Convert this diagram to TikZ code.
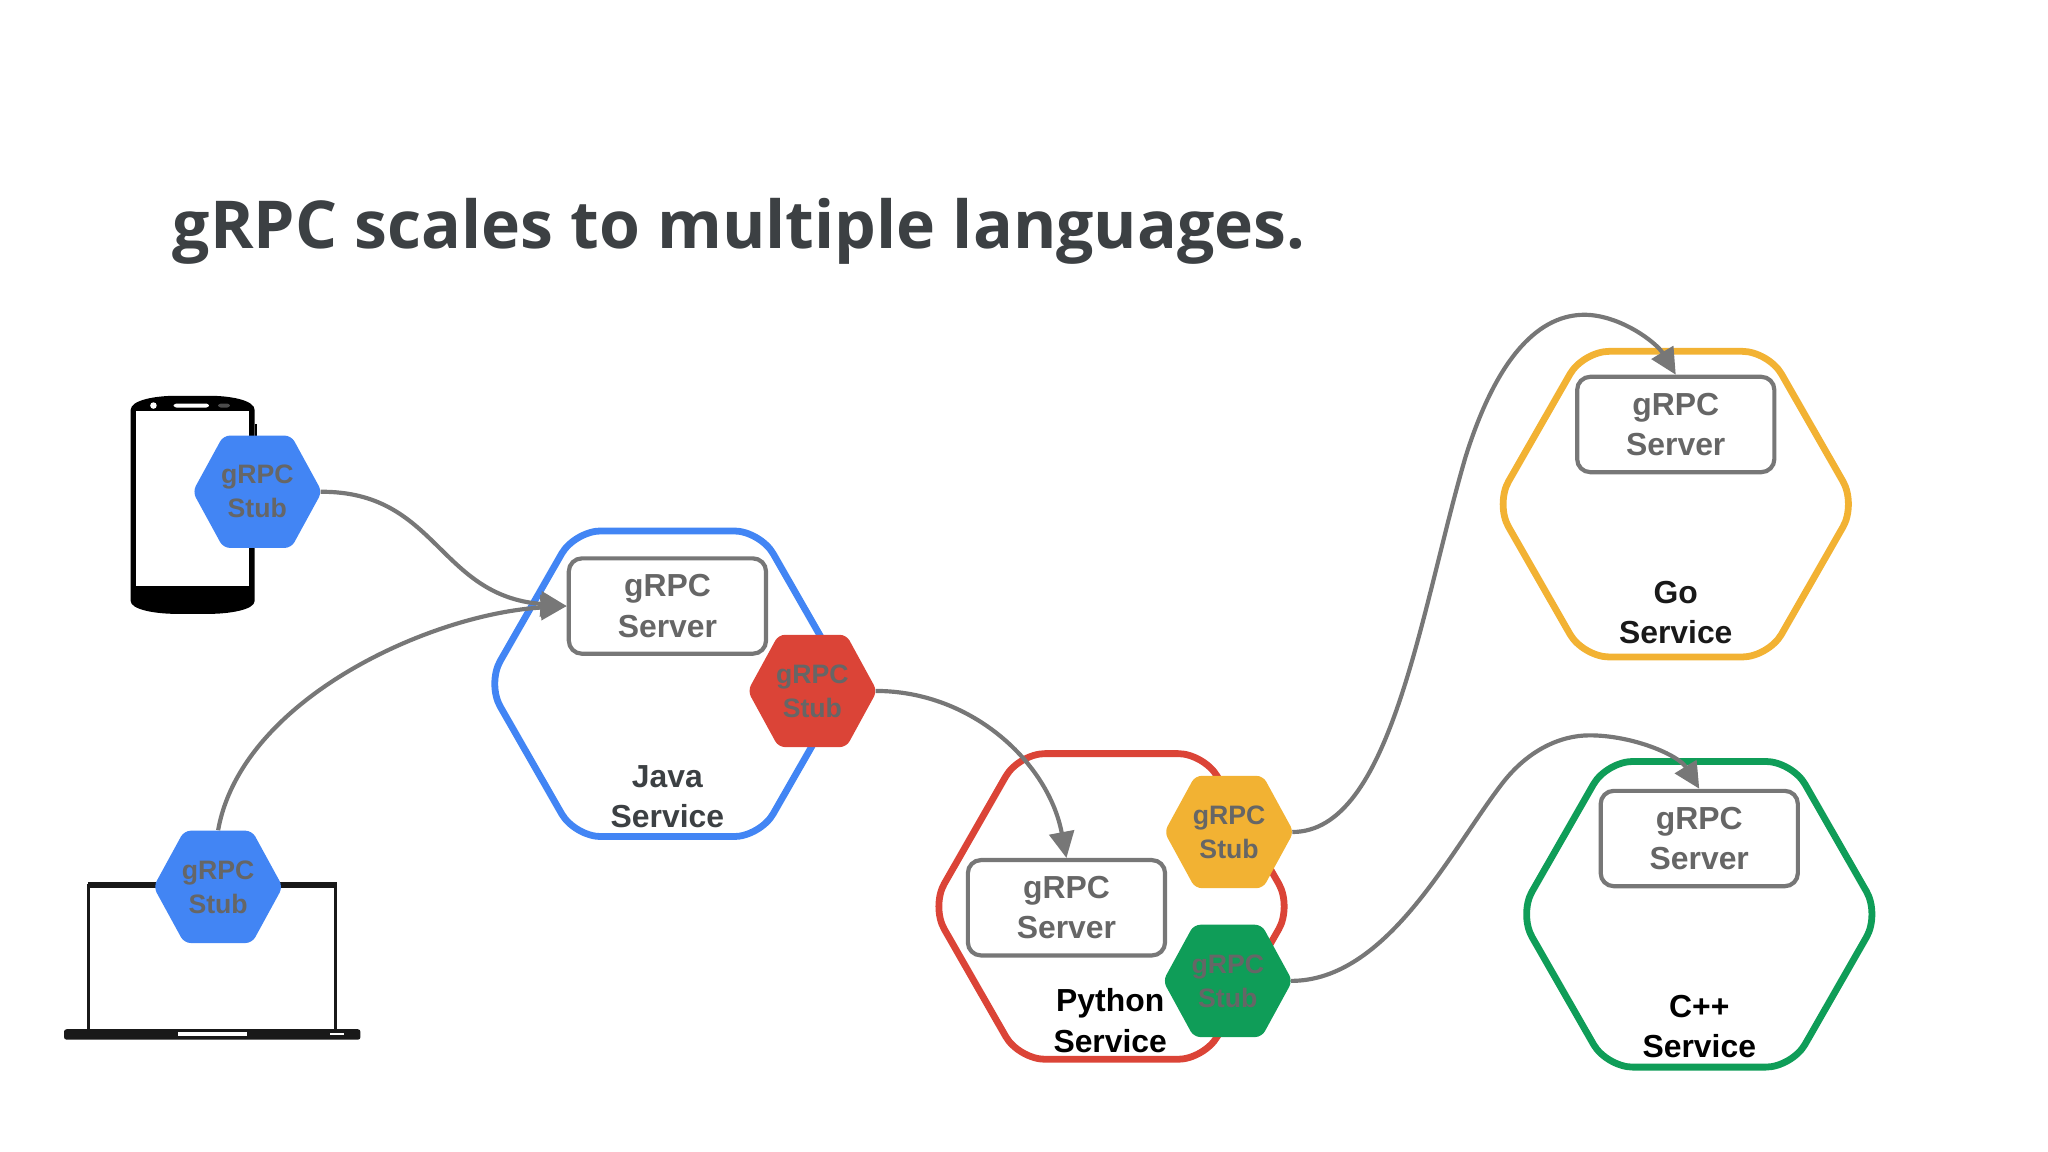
\documentclass[tikz,border=0pt]{standalone}
\usepackage{fontspec}
\setmainfont{Liberation Sans}
\newfontfamily\titlefont{Open Sans}
\usetikzlibrary{arrows.meta}
\definecolor{gblue}{HTML}{4285F4}
\definecolor{gred}{HTML}{DB4437}
\definecolor{gyellow}{HTML}{F2B233}
\definecolor{ggreen}{HTML}{0F9D58}
\definecolor{conn}{HTML}{777777}
\definecolor{stubtext}{HTML}{666666}
\definecolor{darktext}{HTML}{3C4043}
\newcommand{\bighex}[3]{\draw[line width=2.6pt,#3,rounded corners=10pt,line join=round] ({#1-138},#2) -- ({#1-71},{#2-117}) -- ({#1+71},{#2-117}) -- ({#1+138},#2) -- ({#1+71},{#2+117}) -- ({#1-71},{#2+117}) -- cycle;}
\newcommand{\smallhex}[3]{\fill[#3,rounded corners=2.5pt] ({#1-49.5},#2) -- ({#1-26},{#2-43}) -- ({#1+26},{#2-43}) -- ({#1+49.5},#2) -- ({#1+26},{#2+43}) -- ({#1-26},{#2+43}) -- cycle;}
\tikzset{
  lab/.style={align=center,inner sep=0pt,font=\bfseries\fontsize{12.2}{15.5}\selectfont},
  stubnode/.style={align=center,inner sep=0pt,font=\bfseries\fontsize{10.2}{13}\selectfont,text=stubtext,minimum width=48pt,minimum height=43pt},
  servernode/.style={lab,text=stubtext,draw=conn,line width=1.6pt,fill=white,rounded corners=5pt,minimum width=75.5pt,minimum height=36.5pt},
  svc/.style={lab},
  link/.style={draw=conn,line width=1.6pt,-{Triangle[length=10pt,width=9.5pt]}},
}
\begin{document}
\begin{tikzpicture}[x=0.5pt,y=-0.5pt]
\useasboundingbox (0,0) rectangle (1568,882);
% phone
\fill[black] (100,314) .. controls (100,306) and (120,303) .. (135,303) -- (160,303) .. controls (175,303) and (195,306) .. (195,314) -- (195,460) .. controls (195,467) and (175,470) .. (160,470) -- (135,470) .. controls (120,470) and (100,467) .. (100,460) -- cycle;
\fill[black] (195,325) rectangle (196.5,340);
\fill[white] (104,315) rectangle (191,449);
\fill[white] (117.5,310.5) circle (2.5);
\fill[white,rounded corners=1pt] (133,309) rectangle (160,312);
\fill[black!70,rounded corners=1pt] (167,309) rectangle (176,312);
% laptop
\draw[black!90,line width=1.2pt,fill=white] (68,678) rectangle (257,790);
\fill[black!90] (67,675) rectangle (258,680);
\fill[black!90,rounded corners=1pt] (49,788) rectangle (276,796);
\fill[white] (136,790) rectangle (189,793);
\fill[white] (253,791) rectangle (263,792.5);
% service hexagons
\bighex{511}{523.5}{gblue}
\bighex{851}{694}{gred}
\bighex{1283}{386}{gyellow}
\bighex{1301}{700}{ggreen}
% servers
\node[servernode] (srvJava) at (511,464) {gRPC\\Server};
\node[servernode] (srvPy) at (816.5,695) {gRPC\\Server};
\node[servernode] (srvGo) at (1283,325) {gRPC\\Server};
\node[servernode] (srvCpp) at (1301,642) {gRPC\\Server};
% stub hexagons
\smallhex{197}{376.5}{gblue}
\smallhex{167}{679}{gblue}
\smallhex{622}{529}{gred}
\smallhex{941}{637}{gyellow}
\smallhex{940}{751}{ggreen}
\node[stubnode] (stubPhone) at (197,376.5) {gRPC\\Stub};
\node[stubnode] (stubLaptop) at (167,679) {gRPC\\Stub};
\node[stubnode] (stubJava) at (622,529) {gRPC\\Stub};
\node[stubnode] (stubGo) at (941,637) {gRPC\\Stub};
\node[stubnode] (stubCpp) at (940,751) {gRPC\\Stub};
% connectors
\draw[link] (stubPhone.east) .. controls (335,376) and (335,456) .. (srvJava.west);
\draw[link] (stubLaptop.north) .. controls (185,535) and (330,470) .. (srvJava.west);
\draw[link] (stubJava.east) .. controls (745,529) and (803,585) .. (srvPy.north);
\draw[link] (stubGo.east) .. controls (1065,637) and (1087,470) .. (1122,350) .. controls (1147,270) and (1180,241) .. (1213,241) .. controls (1240,241) and (1268,262) .. (srvGo.north);
\draw[link] (stubCpp.east) .. controls (1062,751) and (1110,652) .. (1150,600) .. controls (1170,574) and (1195,563) .. (1217,563) .. controls (1250,563) and (1285,578) .. (srvCpp.north);
% labels
\node[svc,text=darktext] (lblJava) at (511,610) {Java\\Service};
\node[svc,text=black] (lblPy) at (850,781.5) {Python\\Service};
\node[svc,text=black!90] (lblGo) at (1283,469) {Go\\Service};
\node[svc,text=black] (lblCpp) at (1301,786) {C++\\Service};
\node[anchor=west,inner sep=0pt,text=darktext,font=\titlefont\bfseries\fontsize{25.3}{30}\selectfont] (title) at (132,177) {gRPC scales to multiple languages.};
\end{tikzpicture}
\end{document}
